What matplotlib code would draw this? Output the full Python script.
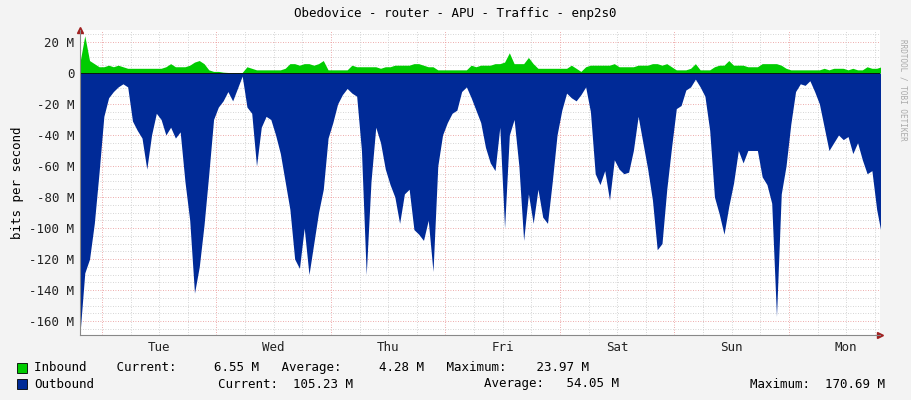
import numpy as np
import matplotlib
matplotlib.use("Agg")
import matplotlib.pyplot as plt

# hourly samples, Mbit/s
outbound = [168, 129, 120, 97, 64, 28, 16, 12, 9, 7, 9, 31, 37, 42, 62, 40, 26, 30, 40, 35,
            42, 38, 70, 95, 142, 125, 98, 65, 30, 22, 18, 12, 18, 10, 2, 22, 26, 60, 35, 28,
            30, 40, 52, 70, 88, 120, 126, 100, 130, 110, 90, 75, 42, 32, 20, 14, 10,
            13, 15, 50, 130, 70, 35, 45, 62, 72, 80, 97, 78, 75, 101, 104, 108, 95, 128,
            60, 40, 32, 26, 24, 12, 9, 16, 24, 32, 48, 58, 63, 35, 100, 40, 30, 60, 108,
            78, 97, 75, 93, 97, 70, 40, 24, 13, 16, 18, 14, 9, 25, 65, 72, 63, 82,
            56, 62, 65, 64, 50, 28, 45, 62, 82, 114, 110, 75, 48, 23, 21, 11, 9, 4, 9, 15,
            37, 80, 91, 104, 86, 71, 50, 58, 50, 50, 50, 67, 72, 84, 157, 78, 60, 33, 12, 7,
            8, 5, 12, 20, 35, 50, 45, 40, 43, 41, 52, 45, 56, 65, 63, 88, 104]
inbound = [7, 24, 8, 6, 4, 4, 5, 4, 5, 4, 3, 3, 3, 3, 3, 3, 3, 3, 4, 6,
           4, 4, 4, 5, 7, 8, 6, 2, 1, 1, 0.5, 0.3, 0.2, 0.2, 0.3, 4, 3, 2, 2, 2,
           2, 2, 2, 3, 6, 6, 5, 6, 6, 5, 6, 8, 2, 2, 2, 2, 2,
           5, 4, 4, 4, 4, 4, 3, 4, 4, 5, 5, 5, 5, 6, 6, 5, 4, 4,
           2, 2, 2, 2, 2, 2, 2, 5, 4, 5, 5, 5, 6, 6, 7, 13, 6, 6, 6,
           10, 6, 3, 3, 3, 3, 3, 3, 3, 5, 3, 1, 4, 5, 5, 5, 5, 5,
           6, 4, 4, 4, 4, 5, 5, 5, 6, 6, 5, 6, 4, 2, 2, 2, 3, 6, 2, 2, 2,
           4, 5, 5, 8, 5, 5, 5, 4, 4, 4, 6, 6, 6, 6, 5, 3, 2, 2, 2, 2,
           2, 2, 2, 3, 2, 3, 3, 3, 2, 3, 2, 2, 4, 3, 3, 4, 6]
days = ["Tue", "Wed", "Thu", "Fri", "Sat", "Sun", "Mon"]
first_midnight = 4.6  # hours from graph start to Tue 00:00

mono = "DejaVu Sans Mono"
fig = plt.figure(figsize=(9.11, 4.0), dpi=100, facecolor="#f3f3f3")
ax = fig.add_axes([80 / 911, 65 / 400, 800 / 911, 305 / 400])
ax.set_facecolor("white")

xo = np.arange(len(outbound))
xi = np.arange(len(inbound))
ax.fill_between(xo, 0, -np.array(outbound), color="#002a97", lw=0, zorder=3)
ax.fill_between(xi, 0, np.array(inbound), color="#00cc00", lw=0, zorder=3)
ax.axhline(0, color="#000000", lw=0.6, zorder=4)

ax.set_xlim(0, 167.7)
ax.set_ylim(-169, 27.7)

# grid
for y in range(-165, 26, 5):
    major = y % 20 == 0
    ax.axhline(y, color="#e89090" if major else "#c8c8c8", lw=0.6, ls=(0, (1, 2)), zorder=1)
h = first_midnight - 24
while h < 168:
    for k in range(4):
        xv = h + 6 * k
        if 0 < xv < 168:
            ax.axvline(xv, color="#e89090" if k == 0 else "#c8c8c8", lw=0.6,
                       ls=(0, (1, 2)), zorder=1)
    h += 24

yt = list(range(-160, 21, 20))
ax.set_yticks(yt)
ax.set_yticklabels([("%d M" % v) if v != 0 else "0" for v in yt], fontfamily=mono, fontsize=9)
ax.set_xticks([first_midnight + 12 + 24 * i for i in range(len(days))])
ax.set_xticklabels(days, fontfamily=mono, fontsize=9)
ax.tick_params(length=0, pad=4, colors="#222222")
for s in ["top", "right"]:
    ax.spines[s].set_visible(False)
for s in ["left", "bottom"]:
    ax.spines[s].set_color("#888888")
    ax.spines[s].set_zorder(5)
ax.plot(1, 0, ">", transform=ax.transAxes, color="#a02020", ms=4, clip_on=False)
ax.plot(0, 1, "^", transform=ax.transAxes, color="#a02020", ms=4, clip_on=False)
ax.set_ylabel("bits per second", fontfamily=mono, fontsize=9)

fig.text(455 / 911, 1 - 14 / 400, "Obedovice - router - APU - Traffic - enp2s0",
         ha="center", va="center", fontfamily=mono, fontsize=9)
fig.text(903 / 911, 1 - 90 / 400, "RRDTOOL / TOBI OETIKER", rotation=270,
         ha="center", va="center", fontfamily=mono, fontsize=5.5, color="#aaaaaa")

fig.patches.append(plt.Rectangle((17 / 911, 1 - 373 / 400), 10 / 911, 10 / 400,
                                 transform=fig.transFigure, fc="#00cc00", ec="black", lw=0.6))
fig.patches.append(plt.Rectangle((17 / 911, 1 - 389 / 400), 10 / 911, 10 / 400,
                                 transform=fig.transFigure, fc="#002a97", ec="black", lw=0.6))
fig.text(34 / 911, 1 - 368 / 400,
         "Inbound    Current:     6.55 M   Average:     4.28 M   Maximum:    23.97 M",
         va="center", fontfamily=mono, fontsize=9)
fig.text(34 / 911, 1 - 384 / 400, "Outbound", va="center", fontfamily=mono, fontsize=9)
fig.text(218 / 911, 1 - 384 / 400, "Current:  105.23 M", va="center", fontfamily=mono, fontsize=9)
fig.text(484 / 911, 1 - 384 / 400, "Average:   54.05 M", va="center", fontfamily=mono, fontsize=9)
fig.text(750 / 911, 1 - 384 / 400, "Maximum:  170.69 M", va="center", fontfamily=mono, fontsize=9)

fig.savefig("out.png", dpi=100, facecolor=fig.get_facecolor())
